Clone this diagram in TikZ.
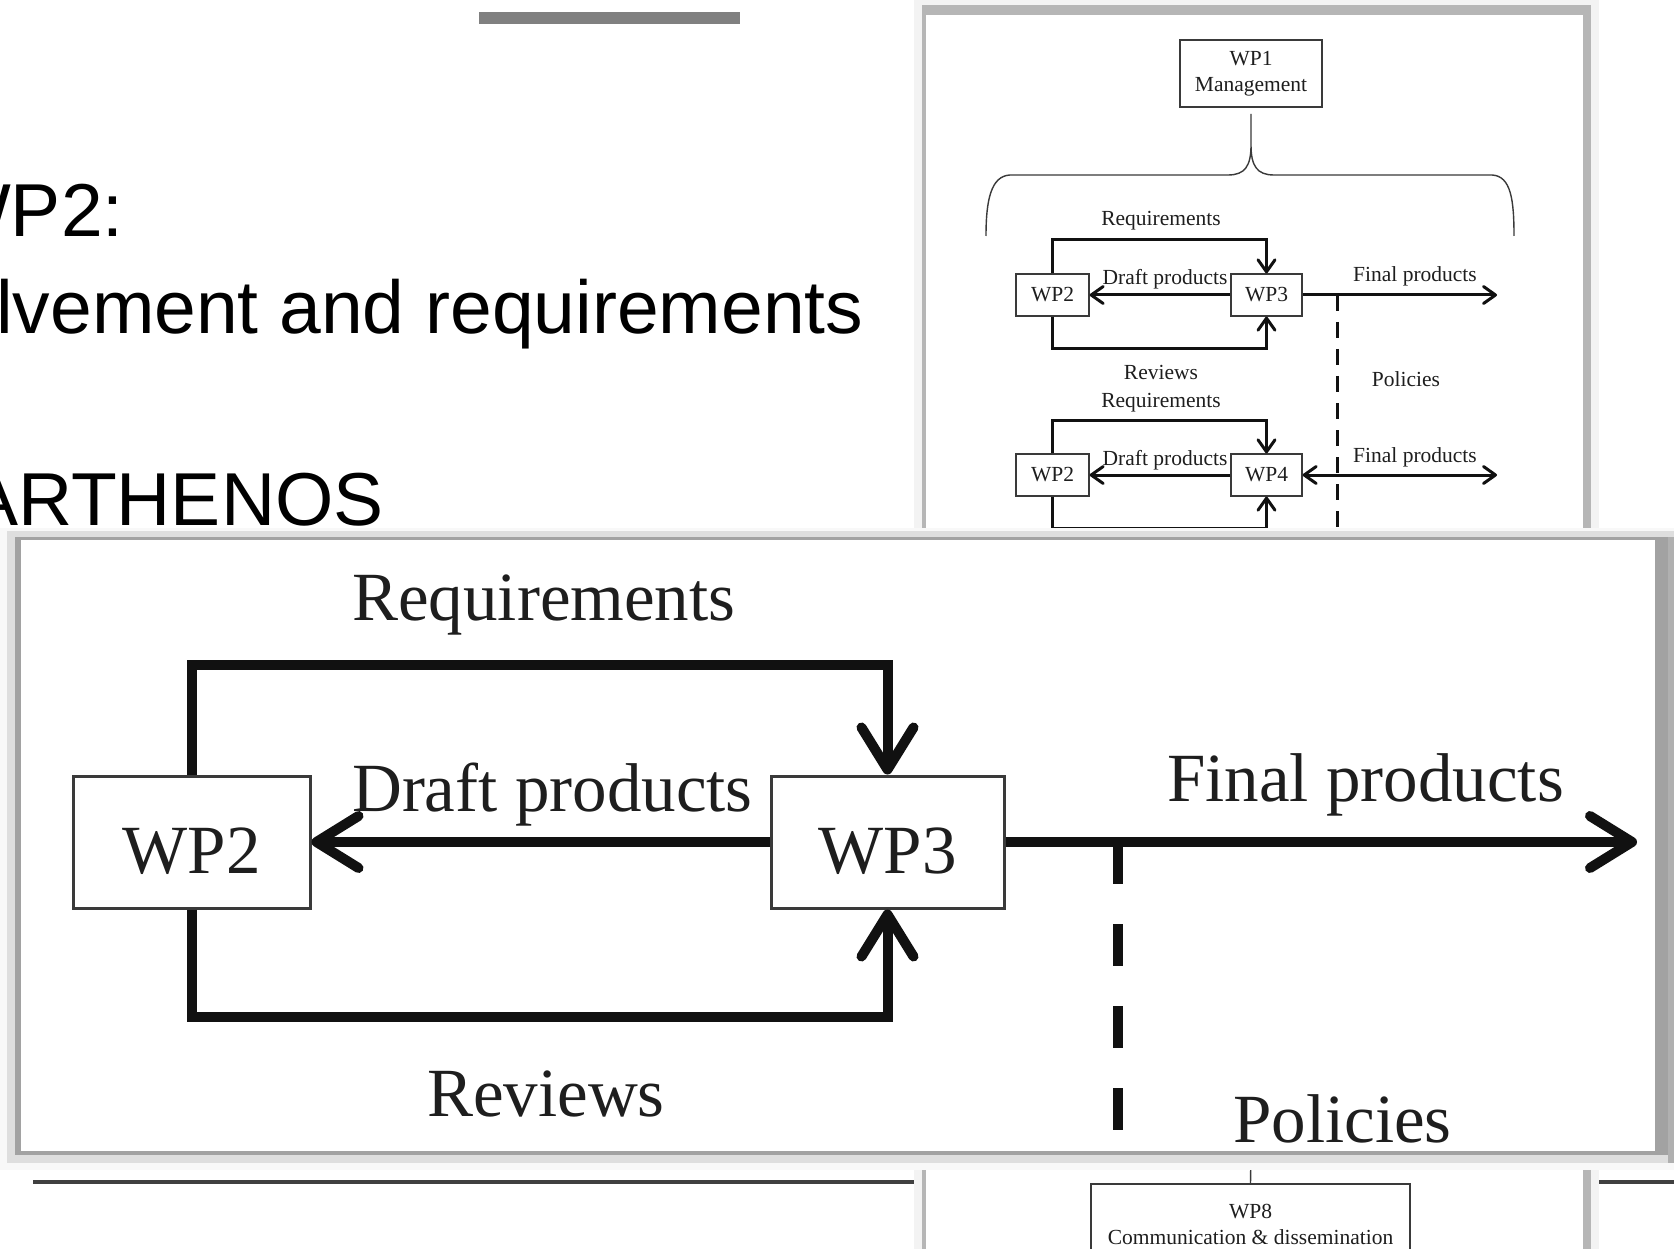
\documentclass[tikz,border=0pt]{standalone}
\usepackage{fontspec}
\setmainfont{Liberation Serif}
\newfontfamily\slidefont{Liberation Sans}
\usetikzlibrary{arrows.meta}
\definecolor{barGray}{HTML}{808080}
\definecolor{lineDark}{HTML}{404040}
\definecolor{shadeA}{HTML}{F3F3F3}
\definecolor{shadeB}{HTML}{B6B6B6}
\definecolor{shadeC}{HTML}{DEDEDE}
\definecolor{shadeD}{HTML}{A2A2A2}
\definecolor{shadeE}{HTML}{F8F8F8}
\definecolor{shadeF}{HTML}{B0B0B0}
\definecolor{inkc}{HTML}{111111}
\definecolor{boxc}{HTML}{3A3A3A}
\definecolor{txtc}{HTML}{1E1E1E}
\tikzset{
  slidetext/.style={inner sep=0pt, anchor=base west, font=\slidefont\fontsize{75}{75}\selectfont, text=black},
  bigline/.style={line width=10pt, draw=inkc},
  bigarrow/.style={bigline, -{Straight Barb[length=42pt,width=52pt,round]}},
  bigbox/.style={draw=boxc, line width=3pt, fill=white, inner sep=0pt, text height=62pt, text depth=0pt, font=\fontsize{69}{69}\selectfont, text=txtc},
  biglabel/.style={inner sep=0pt, anchor=base west, font=\fontsize{69}{69}\selectfont, text=txtc},
  minibox/.style={draw=boxc, line width=1.4pt, fill=white, inner sep=0pt, align=center, font=\fontsize{21.5}{26}\selectfont, text=txtc},
  miniline/.style={line width=3pt, draw=inkc},
  miniarrow/.style={miniline, -{Straight Barb[length=12pt,width=17pt,round]}},
  minilabel/.style={inner sep=0pt, anchor=base, font=\fontsize{21.5}{26}\selectfont, text=txtc},
}
\begin{document}
\begin{tikzpicture}[x=1pt,y=-1pt]
\useasboundingbox (0,0) rectangle (1674,1249);
\clip (0,0) rectangle (1674,1249);
\fill[white] (0,0) rectangle (1674,1249);

% ---------- slide background ----------
\fill[barGray] (479,12) rectangle (740,24);
\node[slidetext] (t1) at (-60,237) {WP2:};
\node[slidetext] (t2) at (-4,334) {lvement and requirements};
\node[slidetext] (t3) at (-32,525) {ARTHENOS};
\fill[lineDark] (33,1180) rectangle (1674,1184);

% ---------- right panel (small figure) ----------
\fill[shadeA] (914,0) rectangle (1599,1260);
\fill[shadeB] (922,5) rectangle (1591,1260);
\fill[white] (926,15) rectangle (1583,1260);

\node[minibox, minimum width=142pt, minimum height=67pt] (wp1) at (1251,73.5) {WP1\\Management};
\draw[line width=1.4pt, draw=boxc]
  (986,236) .. controls (986,200) and (991,176) .. (1010,175) -- (1228,175)
  .. controls (1245,175) and (1251,166) .. (1251,145) -- (1251,114)
  -- (1251,145) .. controls (1251,166) and (1257,175) .. (1274,175) -- (1492,175)
  .. controls (1511,176) and (1514,200) .. (1514,236);

\node[minibox, minimum width=73pt, minimum height=42pt] (m2a) at (1052.5,295) {WP2};
\node[minibox, minimum width=71pt, minimum height=42pt] (m3) at (1266.5,295) {WP3};
\node[minibox, minimum width=73pt, minimum height=42pt] (m2b) at (1052.5,475) {WP2};
\node[minibox, minimum width=71pt, minimum height=42pt] (m4) at (1266.5,475) {WP4};

\coordinate (mreqA) at (0,240);
\coordinate (mrevA) at (0,349);
\coordinate (mreqB) at (0,420);
\coordinate (mrevB) at (0,528);
\coordinate (mfinA) at (1497,295);
\coordinate (mfinB) at (1497,475);
\coordinate (mdashtop) at (1337,295);
\coordinate (mdashbot) at (1337,545);

\draw[miniarrow] (m2a.north) |- (m3.north |- mreqA) -- (m3.north);
\draw[miniarrow] (m3.west) -- (m2a.east);
\draw[miniarrow] (m2a.south) |- (m3.south |- mrevA) -- (m3.south);
\draw[miniarrow] (m3.east) -- (mfinA);
\draw[miniarrow] (m2b.north) |- (m4.north |- mreqB) -- (m4.north);
\draw[miniarrow] (m4.west) -- (m2b.east);
\draw[miniarrow] (m2b.south) |- (m4.south |- mrevB) -- (m4.south);
\draw[miniline, {Straight Barb[length=12pt,width=17pt,round]}-{Straight Barb[length=12pt,width=17pt,round]}] (m4.east) -- (mfinB);
\draw[miniline, dash pattern=on 16pt off 11pt] (mdashtop) -- (mdashbot);

\node[minilabel] (mlreq1) at (1161,226) {Requirements};
\node[minilabel] (mldr1) at (1165,285) {Draft products};
\node[minilabel] (mlfin1) at (1415,282) {Final products};
\node[minilabel] (mlrev) at (1161,380) {Reviews};
\node[minilabel] (mlpol) at (1406,386) {Policies};
\node[minilabel] (mlreq2) at (1161,407) {Requirements};
\node[minilabel] (mldr2) at (1165,465) {Draft products};
\node[minilabel] (mlfin2) at (1415,462) {Final products};

\node[minibox, minimum width=319pt, minimum height=80pt] (wp8) at (1250.5,1224) {WP8\\Communication \& dissemination};
\coordinate (wp8stem) at (1251,1150);
\draw[line width=1.4pt, draw=boxc] (wp8stem) -- (wp8.north);

% ---------- big panel (zoomed inset) ----------
\fill[shadeE] (0,528) rectangle (1674,1170);
\fill[shadeC] (7,531) rectangle (1674,1163);
\fill[shadeD] (15,537) rectangle (1668,1155);
\fill[shadeF] (1668,537) rectangle (1674,1163);
\fill[white] (21,540) rectangle (1655,1151);

\node[bigbox, minimum width=237pt, minimum height=132pt] (wp2) at (191.5,842) {WP2};
\node[bigbox, minimum width=233pt, minimum height=132pt] (wp3) at (887.5,842) {WP3};

\coordinate (reqtop) at (0,665);
\coordinate (revbot) at (0,1017);
\coordinate (finend) at (1637,842);
\coordinate (dashtop) at (1118,842);
\coordinate (dashbot) at (1118,1135);

\draw[bigarrow] (wp2.north) |- (wp3.north |- reqtop) -- (wp3.north);
\draw[bigarrow] (wp3.west) -- (wp2.east);
\draw[bigarrow] (wp2.south) |- (wp3.south |- revbot) -- (wp3.south);
\draw[bigarrow] (wp3.east) -- (finend);
\draw[bigline, dash pattern=on 42pt off 40pt] (dashtop) -- (dashbot);

\node[biglabel] (lreq) at (352,620) {Requirements};
\node[biglabel] (ldraft) at (352,811) {Draft products};
\node[biglabel] (lfinal) at (1167,801) {Final products};
\node[biglabel] (lrev) at (427,1116) {Reviews};
\node[biglabel] (lpol) at (1233,1142) {Policies};
\end{tikzpicture}
\end{document}
